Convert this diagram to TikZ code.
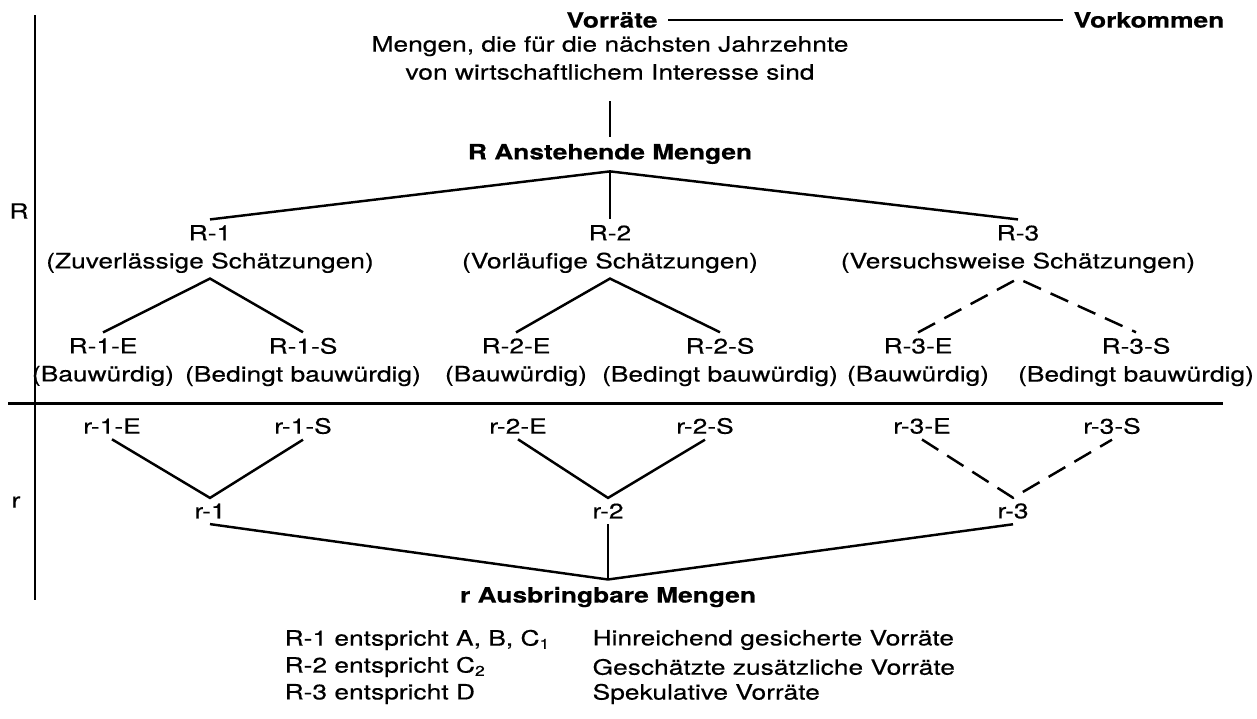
\documentclass[tikz,border=0pt]{standalone}
\usepackage{fontspec}
\setmainfont[FakeStretch=1.25,FakeBold=0.4]{TeX Gyre Heros}

\begin{document}
\begin{tikzpicture}[x=0.02cm,y=-0.02cm,
    every node/.style={font=\fontsize{12}{15.9}\selectfont,align=center,inner sep=3pt},
    hd/.style={font=\fontsize{12}{15.9}\selectfont\bfseries,inner sep=4pt},
    conn/.style={line width=1.4pt},
    tentative/.style={conn,dash pattern=on 11pt off 6pt},
    axis/.style={line width=1.7pt}]
    \useasboundingbox (0,0) rectangle (1257,718);
    % axes
    \draw[axis] (35,15) -- (35,600);
    \draw[axis] (8,403) -- (1223,403);
    \node (labR) at (19,211) {R};
    \node (labr) at (16,502) {r};
    % head
    \node[hd,inner xsep=6pt] (vorr) at (612,20) {Vorräte};
    \node[hd,inner xsep=6pt] (vork) at (1149,20) {Vorkommen};
    \draw[conn] (vorr.east) -- (vork.west);
    \node (menge) at (610,58) {Mengen, die für die nächsten Jahrzehnte\\von wirtschaftlichem Interesse sind};
    \node[hd] (Ranst) at (610,154) {R Anstehende Mengen};
    \draw[conn,shorten <=9pt,shorten >=0pt] (menge.south) -- (Ranst.north);
    % R level
    \node (R1) at (210,249) {R-1\\(Zuverlässige Schätzungen)};
    \node (R2) at (610,249) {R-2\\(Vorläufige Schätzungen)};
    \node (R3) at (1018,249) {R-3\\(Versuchsweise Schätzungen)};
    \draw[conn] (Ranst.south) -- (R1.north);
    \draw[conn] (Ranst.south) -- (R2.north);
    \draw[conn] (Ranst.south) -- (R3.north);
    \node (R1E) at (103,362) {R-1-E\\(Bauwürdig)};
    \node (R1S) at (303,362) {R-1-S\\(Bedingt bauwürdig)};
    \node (R2E) at (516,362) {R-2-E\\(Bauwürdig)};
    \node (R2S) at (720,362) {R-2-S\\(Bedingt bauwürdig)};
    \node (R3E) at (918,362) {R-3-E\\(Bauwürdig)};
    \node (R3S) at (1136,362) {R-3-S\\(Bedingt bauwürdig)};
    \draw[conn] (R1E.north) -- (R1.south) -- (R1S.north);
    \draw[conn] (R2E.north) -- (R2.south) -- (R2S.north);
    \draw[tentative] (R3E.north) -- (R3.south) -- (R3S.north);
    % r level
    \node (r1e) at (112,426) {r-1-E};
    \node (r1s) at (303,426) {r-1-S};
    \node (r2e) at (518,426) {r-2-E};
    \node (r2s) at (705,426) {r-2-S};
    \node (r3e) at (922,426) {r-3-E};
    \node (r3s) at (1112,426) {r-3-S};
    \node (r1) at (210,511) {r-1};
    \node (r2) at (608,511) {r-2};
    \node (r3) at (1013,511) {r-3};
    \draw[conn] (r1e.south) -- (r1.north) -- (r1s.south);
    \draw[conn] (r2e.south) -- (r2.north) -- (r2s.south);
    \draw[tentative] (r3e.south) -- (r3.north) -- (r3s.south);
    \node[hd] (rausb) at (608,597) {r Ausbringbare Mengen};
    \draw[conn] (r1.south) -- (rausb.north);
    \draw[conn] (r2.south) -- (rausb.north);
    \draw[conn] (r3.south) -- (rausb.north);
    % legend
    \node[anchor=west] (leg1) at (279,640) {R-1 entspricht A, B, C\textsubscript{1}};
    \node[anchor=west] (leg2) at (279,667) {R-2 entspricht C\textsubscript{2}};
    \node[anchor=west] (leg3) at (279,694) {R-3 entspricht D};
    \node[anchor=west] (def1) at (587,640) {Hinreichend gesicherte Vorräte};
    \node[anchor=west] (def2) at (587,667) {Geschätzte zusätzliche Vorräte};
    \node[anchor=west] (def3) at (587,694) {Spekulative Vorräte};
\end{tikzpicture}
\end{document}
